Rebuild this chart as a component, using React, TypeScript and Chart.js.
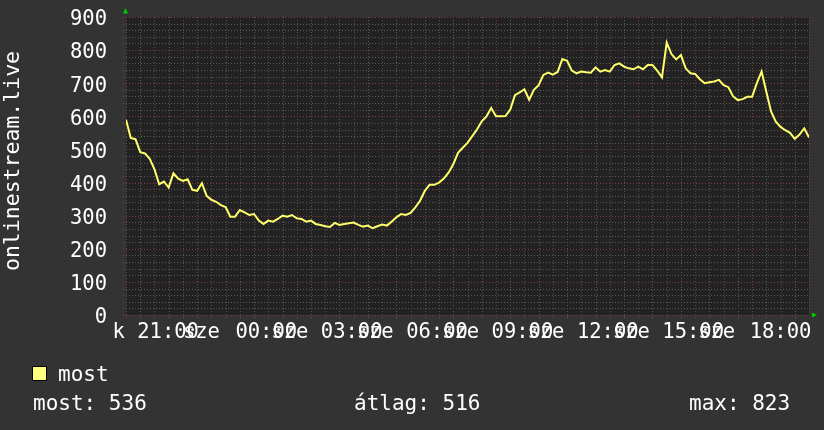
import React, { useEffect, useRef } from "react";
import { Chart, registerables } from "chart.js";

Chart.register(...registerables);

// ---- data ----
const stepMinutes = 10; // sample spacing, first sample at 19:00
const visitors = [
  590, 535, 531, 492, 488, 472, 440, 395, 403, 385,
  428, 412, 405, 410, 378, 375, 398, 360, 348, 342,
  332, 326, 297, 297, 317, 310, 302, 305, 285, 275,
  285, 282, 290, 300, 297, 302, 292, 290, 282, 285,
  275, 272, 268, 266, 278, 272, 275, 277, 279, 272,
  267, 270, 262, 268, 273, 270, 282, 295, 305, 302,
  308, 325, 345, 375, 393, 393, 400, 412, 430, 455,
  490, 505, 520, 540, 560, 585, 600, 625, 600, 600,
  601, 620, 664, 672, 682, 650, 680, 694, 725, 732,
  726, 734, 773, 768, 738, 730, 735, 733, 732, 748,
  735, 740, 735, 755, 760, 750, 745, 742, 750, 742,
  755, 755, 738, 718, 823, 788, 772, 785, 745, 730,
  728, 712, 700, 703, 705, 710, 694, 688, 660, 649,
  652, 659, 659, 700, 735, 674, 615, 584, 568, 558,
  550, 532, 545, 564, 536,
];
const yMin = 0;
const yMax = 900;
const spanHours = 24;
const xLabelHours = [2, 5, 8, 11, 14, 17, 20, 23];
const xLabelTexts = ["21:00", "00:00", "03:00", "06:00", "09:00", "12:00", "15:00", "18:00"];
const xLabelPrefix = ["k ", "", "", "", "", "", "", ""];
const xLabelOverlay = ["sze", "sze", "sze", "sze", "sze", "sze", "sze", ""];
const axisTitle = "onlinestream.live";
const seriesName = "most";
const statTexts = ["most: 536", "átlag: 516", "max: 823"];

// ---- styles ----
const FONT = '"DejaVu Sans Mono", monospace';
const BG = "#333333";
const PLOT_BG = "#222222";
const MINOR = "#5a5a5a";
const MAJOR = "#7a3e3e";
const LINE = "#ffff6e";

const rrdPlugin = {
  id: "rrdPlugin",
  beforeDraw(chart: any) {
    const { ctx, chartArea: a, width, height } = chart;
    ctx.save();
    ctx.fillStyle = BG;
    ctx.fillRect(0, 0, width, height);
    ctx.fillStyle = PLOT_BG;
    ctx.fillRect(a.left, a.top, a.right - a.left, a.bottom - a.top);
    ctx.restore();
  },
  beforeDatasetsDraw(chart: any) {
    const { ctx, chartArea: a, scales } = chart;
    const xs = scales.x;
    const ys = scales.y;
    ctx.save();
    ctx.lineWidth = 1;
    ctx.setLineDash([1, 2]);
    for (let v = yMin; v <= yMax; v += 20) {
      const y = Math.round(ys.getPixelForValue(v)) + 0.5;
      ctx.strokeStyle = v % 100 === 0 ? MAJOR : MINOR;
      ctx.beginPath();
      ctx.moveTo(a.left - 3, y);
      ctx.lineTo(a.right, y);
      ctx.stroke();
    }
    for (let h = 0; h <= spanHours; h += 0.5) {
      const x = Math.round(xs.getPixelForValue(h)) + 0.5;
      ctx.strokeStyle = Number.isInteger(h) ? MAJOR : MINOR;
      ctx.beginPath();
      ctx.moveTo(x, a.top);
      ctx.lineTo(x, a.bottom + 3);
      ctx.stroke();
    }
    ctx.restore();
  },
  afterDraw(chart: any) {
    const { ctx, chartArea: a, scales } = chart;
    const xs = scales.x;
    ctx.save();
    // arrows
    ctx.fillStyle = "#00cc00";
    ctx.beginPath();
    ctx.moveTo(a.left - 3, 13.5);
    ctx.lineTo(a.left + 2, 13.5);
    ctx.lineTo(a.left - 0.5, 8);
    ctx.closePath();
    ctx.fill();
    ctx.beginPath();
    ctx.moveTo(a.right + 3, a.bottom - 2.5);
    ctx.lineTo(a.right + 3, a.bottom + 2.5);
    ctx.lineTo(a.right + 8, a.bottom);
    ctx.closePath();
    ctx.fill();

    // x labels
    ctx.fillStyle = "#ffffff";
    ctx.font = "20.5px " + FONT;
    ctx.textBaseline = "alphabetic";
    xLabelHours.forEach((h, i) => {
      const px = xs.getPixelForValue(h);
      const base = 338;
      if (xLabelPrefix[i]) {
        ctx.textAlign = "right";
        ctx.fillText(xLabelPrefix[i] + xLabelTexts[i], px + 16, base);
        ctx.textAlign = "left";
        ctx.fillText(xLabelOverlay[i], px, base);
      } else if (xLabelOverlay[i]) {
        ctx.textAlign = "center";
        ctx.fillText(xLabelTexts[i], px - 2, base);
        ctx.textAlign = "left";
        ctx.fillText(xLabelOverlay[i], px + 3, base);
      } else {
        ctx.textAlign = "center";
        ctx.fillText(xLabelTexts[i], px, base);
      }
    });

    // y axis title
    ctx.save();
    ctx.font = "21.5px " + FONT;
    ctx.translate(13, 161);
    ctx.rotate(-Math.PI / 2);
    ctx.textAlign = "center";
    ctx.textBaseline = "middle";
    ctx.fillText(axisTitle, 0, 0);
    ctx.restore();

    // legend
    ctx.fillStyle = "#ffff80";
    ctx.fillRect(32.5, 366.5, 14, 14);
    ctx.strokeStyle = "#000000";
    ctx.lineWidth = 1;
    ctx.strokeRect(32.5, 366.5, 14, 14);
    ctx.fillStyle = "#ffffff";
    ctx.font = "21px " + FONT;
    ctx.textAlign = "left";
    ctx.fillText(seriesName, 58, 381);
    ctx.fillText(statTexts[0], 33, 410);
    ctx.fillText(statTexts[1], 354, 410);
    ctx.fillText(statTexts[2], 689, 410);
    ctx.restore();
  },
};

export default function App() {
  const ref = useRef<HTMLCanvasElement | null>(null);
  useEffect(() => {
    document.body.style.margin = "0";
    document.body.style.background = BG;
    const canvas = ref.current;
    if (!canvas) return;
    const chart = new Chart(canvas, {
      type: "line",
      data: {
        datasets: [
          {
            label: seriesName,
            data: visitors.map((v, i) => ({ x: (i * stepMinutes) / 60, y: v })),
            borderColor: LINE,
            borderWidth: 2,
            pointRadius: 0,
            tension: 0,
            fill: false,
          },
        ],
      },
      options: {
        responsive: false,
        animation: false,
        events: [],
        layout: { padding: { top: 17, right: 15, bottom: 115, left: 0 } },
        plugins: { legend: { display: false }, tooltip: { enabled: false } },
        scales: {
          x: { type: "linear", min: 0, max: spanHours, display: false },
          y: {
            type: "linear",
            min: yMin,
            max: yMax,
            grid: { display: false, drawTicks: false },
            border: { display: false },
            ticks: {
              stepSize: 100,
              padding: 19,
              labelOffset: 3,
              color: "#ffffff",
              font: { family: FONT, size: 20.5 },
            },
            afterFit: (scale: any) => {
              scale.width = 126;
              scale.paddingTop = 0;
              scale.paddingBottom = 0;
            },
          },
        },
      },
      plugins: [rrdPlugin],
    });
    return () => chart.destroy();
  }, []);
  return <canvas ref={ref} width={824} height={430} style={{ display: "block" }} />;
}
